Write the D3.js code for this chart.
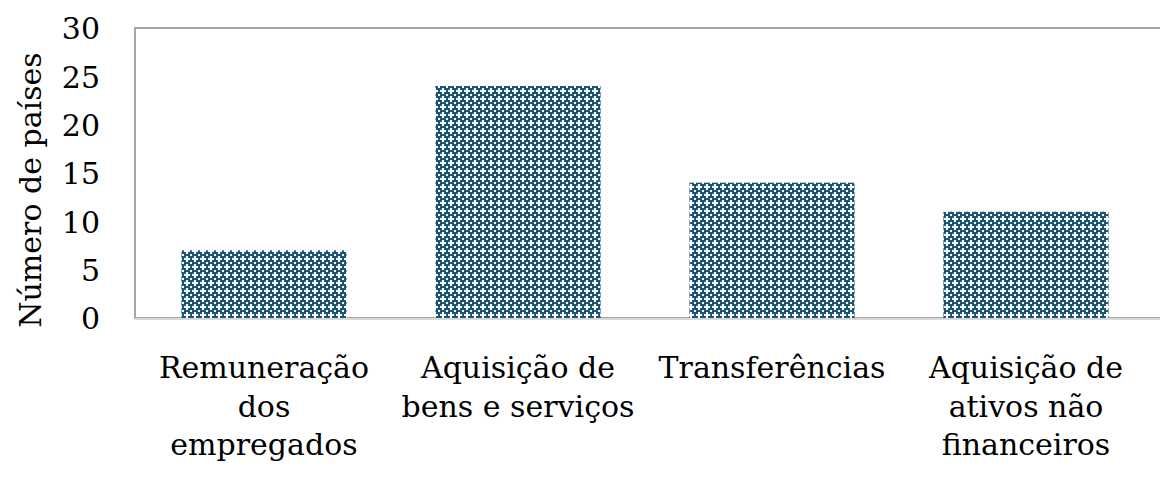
<!DOCTYPE html>
<html><head><meta charset="utf-8">
<script src="https://cdn.jsdelivr.net/npm/d3@7"></script>
<style>html,body{margin:0;padding:0;background:#fff;}svg{display:block;}</style>
</head><body>
<script>
const categories = [
  ["Remuneração","dos","empregados"],
  ["Aquisição de","bens e serviços"],
  ["Transferências"],
  ["Aquisição de","ativos não","financeiros"]
];
const values = [7, 24, 14, 11];
const yTicks = [0, 5, 10, 15, 20, 25, 30];
const yTitle = "Número de países";

(function(){
const W = 1160, H = 479;
const FONT = "'DejaVu Serif', serif";
const FS = 30;
const svg = d3.select("body").append("svg").attr("width", W).attr("height", H);

const defs = svg.append("defs");
const pat = defs.append("pattern").attr("id","pat").attr("patternUnits","userSpaceOnUse")
  .attr("width",8).attr("height",8);
pat.append("rect").attr("width",8).attr("height",8).attr("fill","#1b5676");
[[2,0],[0,2],[2,2],[4,2],[2,4],[6,6]].forEach(([px,py])=>pat.append("rect").attr("x",px).attr("y",py).attr("width",2).attr("height",2).attr("fill","#ffffff"));

const pLeft = 135, pRight = 1175, pTop = 28, pBottom = 318;
const ids = categories.map((c,i)=>i);
const x = d3.scaleBand().domain(ids).range([137, 1153]).paddingInner(0.35).paddingOuter(0.175);
const y = d3.scaleLinear().domain([0,30]).range([pBottom, pTop]);

svg.append("rect").attr("x", pLeft).attr("y", pTop).attr("width", pRight-pLeft).attr("height", pBottom-pTop)
  .attr("fill","none").attr("stroke","#a6a6a6").attr("stroke-width",2);

svg.append("g").selectAll("rect").data(values).join("rect")
  .attr("x",(d,i)=>x(i)).attr("width",x.bandwidth())
  .attr("y",d=>y(d)).attr("height",d=>y(0)-y(d))
  .attr("fill","url(#pat)");

svg.append("line").attr("x1",pLeft).attr("x2",W).attr("y1",y(0)+1).attr("y2",y(0)+1)
  .attr("stroke","#d9d9d9").attr("stroke-width",2);

const yAxis = d3.axisLeft(y).tickValues(yTicks).tickSize(0).tickPadding(0);
const gy = svg.append("g").attr("transform","translate(100,0)").call(yAxis);
gy.select(".domain").remove();
gy.selectAll("text").attr("font-family",FONT).attr("font-size",FS).attr("fill","#000").attr("dy","0.36em");

const gx = svg.append("g");
categories.forEach((lines,i)=>{
  const cx = x(i)+x.bandwidth()/2;
  const t = gx.append("text").attr("x", cx).attr("y",378)
    .attr("text-anchor","middle").attr("font-family",FONT).attr("font-size",FS).attr("fill","#000");
  lines.forEach((l,j)=>t.append("tspan").attr("x", cx).attr("dy", j===0?0:38.5).text(l));
});

svg.append("text").attr("transform","translate(41,190) rotate(-90)").attr("text-anchor","middle")
  .attr("font-family",FONT).attr("font-size",FS).attr("fill","#000").text(yTitle);
})();
</script>
</body></html>
